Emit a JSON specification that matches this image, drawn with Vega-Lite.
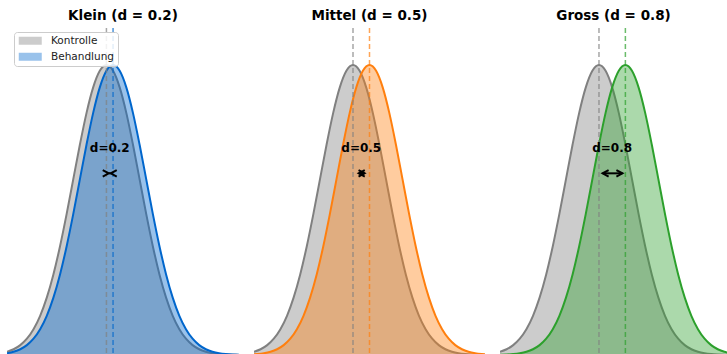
{
  "$schema": "https://vega.github.io/schema/vega-lite/v6.json",
  "padding": {"left": 7, "top": 8, "right": 0, "bottom": 0},
  "spacing": 15,
  "datasets": {
    "control": [
      {"x": -3.0, "y": 0.00443}, {"x": -2.8, "y": 0.00792}, {"x": -2.6, "y": 0.01358}, {"x": -2.4, "y": 0.02239},
      {"x": -2.2, "y": 0.03547}, {"x": -2.0, "y": 0.05399}, {"x": -1.8, "y": 0.07895}, {"x": -1.6, "y": 0.11092},
      {"x": -1.4, "y": 0.14973}, {"x": -1.2, "y": 0.19419}, {"x": -1.0, "y": 0.24197}, {"x": -0.8, "y": 0.28969},
      {"x": -0.6, "y": 0.33322}, {"x": -0.4, "y": 0.36827}, {"x": -0.2, "y": 0.39104}, {"x": 0.0, "y": 0.39894},
      {"x": 0.2, "y": 0.39104}, {"x": 0.4, "y": 0.36827}, {"x": 0.6, "y": 0.33322}, {"x": 0.8, "y": 0.28969},
      {"x": 1.0, "y": 0.24197}, {"x": 1.2, "y": 0.19419}, {"x": 1.4, "y": 0.14973}, {"x": 1.6, "y": 0.11092},
      {"x": 1.8, "y": 0.07895}, {"x": 2.0, "y": 0.05399}, {"x": 2.2, "y": 0.03547}, {"x": 2.4, "y": 0.02239},
      {"x": 2.6, "y": 0.01358}, {"x": 2.8, "y": 0.00792}, {"x": 3.0, "y": 0.00443}, {"x": 3.2, "y": 0.00238},
      {"x": 3.4, "y": 0.00123}, {"x": 3.6, "y": 0.00061}, {"x": 3.8, "y": 0.00029}, {"x": 4.0, "y": 0.00013}
    ],
    "treat": [
      {"d": 0.2, "x": -3.0, "y": 0.00238}, {"d": 0.2, "x": -2.8, "y": 0.00443}, {"d": 0.2, "x": -2.6, "y": 0.00792}, {"d": 0.2, "x": -2.4, "y": 0.01358},
      {"d": 0.2, "x": -2.2, "y": 0.02239}, {"d": 0.2, "x": -2.0, "y": 0.03547}, {"d": 0.2, "x": -1.8, "y": 0.05399}, {"d": 0.2, "x": -1.6, "y": 0.07895},
      {"d": 0.2, "x": -1.4, "y": 0.11092}, {"d": 0.2, "x": -1.2, "y": 0.14973}, {"d": 0.2, "x": -1.0, "y": 0.19419}, {"d": 0.2, "x": -0.8, "y": 0.24197},
      {"d": 0.2, "x": -0.6, "y": 0.28969}, {"d": 0.2, "x": -0.4, "y": 0.33322}, {"d": 0.2, "x": -0.2, "y": 0.36827}, {"d": 0.2, "x": 0.0, "y": 0.39104},
      {"d": 0.2, "x": 0.2, "y": 0.39894}, {"d": 0.2, "x": 0.4, "y": 0.39104}, {"d": 0.2, "x": 0.6, "y": 0.36827}, {"d": 0.2, "x": 0.8, "y": 0.33322},
      {"d": 0.2, "x": 1.0, "y": 0.28969}, {"d": 0.2, "x": 1.2, "y": 0.24197}, {"d": 0.2, "x": 1.4, "y": 0.19419}, {"d": 0.2, "x": 1.6, "y": 0.14973},
      {"d": 0.2, "x": 1.8, "y": 0.11092}, {"d": 0.2, "x": 2.0, "y": 0.07895}, {"d": 0.2, "x": 2.2, "y": 0.05399}, {"d": 0.2, "x": 2.4, "y": 0.03547},
      {"d": 0.2, "x": 2.6, "y": 0.02239}, {"d": 0.2, "x": 2.8, "y": 0.01358}, {"d": 0.2, "x": 3.0, "y": 0.00792}, {"d": 0.2, "x": 3.2, "y": 0.00443},
      {"d": 0.2, "x": 3.4, "y": 0.00238}, {"d": 0.2, "x": 3.6, "y": 0.00123}, {"d": 0.2, "x": 3.8, "y": 0.00061}, {"d": 0.2, "x": 4.0, "y": 0.00029},

      {"d": 0.5, "x": -3.1, "y": 0.00061}, {"d": 0.5, "x": -2.9, "y": 0.00123}, {"d": 0.5, "x": -2.7, "y": 0.00238}, {"d": 0.5, "x": -2.5, "y": 0.00443},
      {"d": 0.5, "x": -2.3, "y": 0.00792}, {"d": 0.5, "x": -2.1, "y": 0.01358}, {"d": 0.5, "x": -1.9, "y": 0.02239}, {"d": 0.5, "x": -1.7, "y": 0.03547},
      {"d": 0.5, "x": -1.5, "y": 0.05399}, {"d": 0.5, "x": -1.3, "y": 0.07895}, {"d": 0.5, "x": -1.1, "y": 0.11092}, {"d": 0.5, "x": -0.9, "y": 0.14973},
      {"d": 0.5, "x": -0.7, "y": 0.19419}, {"d": 0.5, "x": -0.5, "y": 0.24197}, {"d": 0.5, "x": -0.3, "y": 0.28969}, {"d": 0.5, "x": -0.1, "y": 0.33322},
      {"d": 0.5, "x": 0.1, "y": 0.36827}, {"d": 0.5, "x": 0.3, "y": 0.39104}, {"d": 0.5, "x": 0.5, "y": 0.39894}, {"d": 0.5, "x": 0.7, "y": 0.39104},
      {"d": 0.5, "x": 0.9, "y": 0.36827}, {"d": 0.5, "x": 1.1, "y": 0.33322}, {"d": 0.5, "x": 1.3, "y": 0.28969}, {"d": 0.5, "x": 1.5, "y": 0.24197},
      {"d": 0.5, "x": 1.7, "y": 0.19419}, {"d": 0.5, "x": 1.9, "y": 0.14973}, {"d": 0.5, "x": 2.1, "y": 0.11092}, {"d": 0.5, "x": 2.3, "y": 0.07895},
      {"d": 0.5, "x": 2.5, "y": 0.05399}, {"d": 0.5, "x": 2.7, "y": 0.03547}, {"d": 0.5, "x": 2.9, "y": 0.02239}, {"d": 0.5, "x": 3.1, "y": 0.01358},
      {"d": 0.5, "x": 3.3, "y": 0.00792}, {"d": 0.5, "x": 3.5, "y": 0.00443}, {"d": 0.5, "x": 3.7, "y": 0.00238}, {"d": 0.5, "x": 3.9, "y": 0.00123},
      {"d": 0.5, "x": 4.1, "y": 0.00061},

      {"d": 0.8, "x": -3.0, "y": 0.00029}, {"d": 0.8, "x": -2.8, "y": 0.00061}, {"d": 0.8, "x": -2.6, "y": 0.00123}, {"d": 0.8, "x": -2.4, "y": 0.00238},
      {"d": 0.8, "x": -2.2, "y": 0.00443}, {"d": 0.8, "x": -2.0, "y": 0.00792}, {"d": 0.8, "x": -1.8, "y": 0.01358}, {"d": 0.8, "x": -1.6, "y": 0.02239},
      {"d": 0.8, "x": -1.4, "y": 0.03547}, {"d": 0.8, "x": -1.2, "y": 0.05399}, {"d": 0.8, "x": -1.0, "y": 0.07895}, {"d": 0.8, "x": -0.8, "y": 0.11092},
      {"d": 0.8, "x": -0.6, "y": 0.14973}, {"d": 0.8, "x": -0.4, "y": 0.19419}, {"d": 0.8, "x": -0.2, "y": 0.24197}, {"d": 0.8, "x": 0.0, "y": 0.28969},
      {"d": 0.8, "x": 0.2, "y": 0.33322}, {"d": 0.8, "x": 0.4, "y": 0.36827}, {"d": 0.8, "x": 0.6, "y": 0.39104}, {"d": 0.8, "x": 0.8, "y": 0.39894},
      {"d": 0.8, "x": 1.0, "y": 0.39104}, {"d": 0.8, "x": 1.2, "y": 0.36827}, {"d": 0.8, "x": 1.4, "y": 0.33322}, {"d": 0.8, "x": 1.6, "y": 0.28969},
      {"d": 0.8, "x": 1.8, "y": 0.24197}, {"d": 0.8, "x": 2.0, "y": 0.19419}, {"d": 0.8, "x": 2.2, "y": 0.14973}, {"d": 0.8, "x": 2.4, "y": 0.11092},
      {"d": 0.8, "x": 2.6, "y": 0.07895}, {"d": 0.8, "x": 2.8, "y": 0.05399}, {"d": 0.8, "x": 3.0, "y": 0.03547}, {"d": 0.8, "x": 3.2, "y": 0.02239},
      {"d": 0.8, "x": 3.4, "y": 0.01358}, {"d": 0.8, "x": 3.6, "y": 0.00792}, {"d": 0.8, "x": 3.8, "y": 0.00443}, {"d": 0.8, "x": 4.0, "y": 0.00238}
    ]
  },
  "hconcat": [
    {
      "width": 232, "height": 327,
      "title": "Klein (d = 0.2)",
      "layer": [
        {"data": {"name": "control"},
         "mark": {"type": "area", "interpolate": "monotone", "opacity": 0.4, "clip": true},
         "encoding": {
           "x": {"field": "x", "type": "quantitative", "scale": {"domain": [-3, 4], "nice": false, "zero": false}, "axis": null},
           "y": {"field": "y", "type": "quantitative", "scale": {"domain": [0, 0.45], "nice": false}, "axis": null},
           "color": {"datum": "Kontrolle", "type": "nominal",
             "scale": {"domain": ["Kontrolle", "Behandlung"], "range": ["#808080", "#0066CC"]},
             "legend": {"title": null, "orient": "none", "legendX": 7, "legendY": 4,
               "symbolType": "M-1,-1H4.75V1H-1Z", "symbolSize": 64, "symbolStrokeWidth": 0,
               "labelFont": "DejaVu Sans", "labelFontSize": 10.5, "labelColor": "#222222", "labelOffset": 23,
               "rowPadding": 5, "padding": 3.5, "fillColor": "rgba(255,255,255,0.85)", "strokeColor": "#cccccc", "cornerRadius": 3}}
         }},
        {"data": {"name": "control"},
         "mark": {"type": "line", "interpolate": "monotone", "color": "#808080", "strokeWidth": 2, "clip": true},
         "encoding": {"x": {"field": "x", "type": "quantitative"}, "y": {"field": "y", "type": "quantitative"}}},
        {"data": {"name": "treat"}, "transform": [{"filter": "datum.d == 0.2"}],
         "mark": {"type": "area", "interpolate": "monotone", "opacity": 0.4, "clip": true},
         "encoding": {"x": {"field": "x", "type": "quantitative"}, "y": {"field": "y", "type": "quantitative"},
           "color": {"datum": "Behandlung", "type": "nominal"}}},
        {"data": {"name": "treat"}, "transform": [{"filter": "datum.d == 0.2"}],
         "mark": {"type": "line", "interpolate": "monotone", "color": "#0066CC", "strokeWidth": 2, "clip": true},
         "encoding": {"x": {"field": "x", "type": "quantitative"}, "y": {"field": "y", "type": "quantitative"}}},
        {"data": {"values": [{}]},
         "mark": {"type": "rule", "color": "#808080", "opacity": 0.7, "strokeDash": [5, 3], "strokeWidth": 1.5},
         "encoding": {"x": {"datum": 0, "type": "quantitative"}}},
        {"data": {"values": [{}]},
         "mark": {"type": "rule", "color": "#0066CC", "opacity": 0.7, "strokeDash": [5, 3], "strokeWidth": 1.5},
         "encoding": {"x": {"datum": 0.2, "type": "quantitative"}}},
        {"data": {"values": [{}]},
         "mark": {"type": "text", "text": "d=0.2", "font": "DejaVu Sans", "fontWeight": "bold", "fontSize": 12, "baseline": "middle", "align": "center", "color": "black"},
         "encoding": {"x": {"datum": 0.1, "type": "quantitative"}, "y": {"datum": 0.285, "type": "quantitative"}}},
        {"data": {"values": [{}]},
         "mark": {"type": "rule", "color": "black", "strokeWidth": 2},
         "encoding": {"x": {"datum": 0.07, "type": "quantitative"}, "x2": {"datum": 0.13}, "y": {"datum": 0.25, "type": "quantitative"}}},
        {"data": {"values": [{}]},
         "mark": {"type": "point", "shape": "M3,-1.6L0,0L3,1.6", "size": 16, "filled": false, "color": "black", "strokeWidth": 2, "opacity": 1},
         "encoding": {"x": {"datum": 0.13, "type": "quantitative"}, "y": {"datum": 0.25, "type": "quantitative"}}},
        {"data": {"values": [{}]},
         "mark": {"type": "point", "shape": "M-3,-1.6L0,0L-3,1.6", "size": 16, "filled": false, "color": "black", "strokeWidth": 2, "opacity": 1},
         "encoding": {"x": {"datum": 0.07, "type": "quantitative"}, "y": {"datum": 0.25, "type": "quantitative"}}}
      ]
    },
    {
      "width": 231, "height": 327,
      "title": "Mittel (d = 0.5)",
      "layer": [
        {"data": {"name": "control"},
         "mark": {"type": "area", "interpolate": "monotone", "color": "#808080", "opacity": 0.4, "clip": true},
         "encoding": {
           "x": {"field": "x", "type": "quantitative", "scale": {"domain": [-3, 4], "nice": false, "zero": false}, "axis": null},
           "y": {"field": "y", "type": "quantitative", "scale": {"domain": [0, 0.45], "nice": false}, "axis": null}
         }},
        {"data": {"name": "control"},
         "mark": {"type": "line", "interpolate": "monotone", "color": "#808080", "strokeWidth": 2, "clip": true},
         "encoding": {"x": {"field": "x", "type": "quantitative"}, "y": {"field": "y", "type": "quantitative"}}},
        {"data": {"name": "treat"}, "transform": [{"filter": "datum.d == 0.5"}],
         "mark": {"type": "area", "interpolate": "monotone", "color": "#FF7F0E", "opacity": 0.4, "clip": true},
         "encoding": {"x": {"field": "x", "type": "quantitative"}, "y": {"field": "y", "type": "quantitative"}}},
        {"data": {"name": "treat"}, "transform": [{"filter": "datum.d == 0.5"}],
         "mark": {"type": "line", "interpolate": "monotone", "color": "#FF7F0E", "strokeWidth": 2, "clip": true},
         "encoding": {"x": {"field": "x", "type": "quantitative"}, "y": {"field": "y", "type": "quantitative"}}},
        {"data": {"values": [{}]},
         "mark": {"type": "rule", "color": "#808080", "opacity": 0.7, "strokeDash": [5, 3], "strokeWidth": 1.5},
         "encoding": {"x": {"datum": 0, "type": "quantitative"}}},
        {"data": {"values": [{}]},
         "mark": {"type": "rule", "color": "#FF7F0E", "opacity": 0.7, "strokeDash": [5, 3], "strokeWidth": 1.5},
         "encoding": {"x": {"datum": 0.5, "type": "quantitative"}}},
        {"data": {"values": [{}]},
         "mark": {"type": "text", "text": "d=0.5", "font": "DejaVu Sans", "fontWeight": "bold", "fontSize": 12, "baseline": "middle", "align": "center", "color": "black"},
         "encoding": {"x": {"datum": 0.25, "type": "quantitative"}, "y": {"datum": 0.285, "type": "quantitative"}}},
        {"data": {"values": [{}]},
         "mark": {"type": "rule", "color": "black", "strokeWidth": 2},
         "encoding": {"x": {"datum": 0.175, "type": "quantitative"}, "x2": {"datum": 0.35}, "y": {"datum": 0.25, "type": "quantitative"}}},
        {"data": {"values": [{}]},
         "mark": {"type": "point", "shape": "M3,-1.6L0,0L3,1.6", "size": 16, "filled": false, "color": "black", "strokeWidth": 2, "opacity": 1},
         "encoding": {"x": {"datum": 0.175, "type": "quantitative"}, "y": {"datum": 0.25, "type": "quantitative"}}},
        {"data": {"values": [{}]},
         "mark": {"type": "point", "shape": "M-3,-1.6L0,0L-3,1.6", "size": 16, "filled": false, "color": "black", "strokeWidth": 2, "opacity": 1},
         "encoding": {"x": {"datum": 0.35, "type": "quantitative"}, "y": {"datum": 0.25, "type": "quantitative"}}}
      ]
    },
    {
      "width": 227, "height": 327,
      "title": "Gross (d = 0.8)",
      "layer": [
        {"data": {"name": "control"},
         "mark": {"type": "area", "interpolate": "monotone", "color": "#808080", "opacity": 0.4, "clip": true},
         "encoding": {
           "x": {"field": "x", "type": "quantitative", "scale": {"domain": [-3, 3.88], "nice": false, "zero": false}, "axis": null},
           "y": {"field": "y", "type": "quantitative", "scale": {"domain": [0, 0.45], "nice": false}, "axis": null}
         }},
        {"data": {"name": "control"},
         "mark": {"type": "line", "interpolate": "monotone", "color": "#808080", "strokeWidth": 2, "clip": true},
         "encoding": {"x": {"field": "x", "type": "quantitative"}, "y": {"field": "y", "type": "quantitative"}}},
        {"data": {"name": "treat"}, "transform": [{"filter": "datum.d == 0.8"}],
         "mark": {"type": "area", "interpolate": "monotone", "color": "#2CA02C", "opacity": 0.4, "clip": true},
         "encoding": {"x": {"field": "x", "type": "quantitative"}, "y": {"field": "y", "type": "quantitative"}}},
        {"data": {"name": "treat"}, "transform": [{"filter": "datum.d == 0.8"}],
         "mark": {"type": "line", "interpolate": "monotone", "color": "#2CA02C", "strokeWidth": 2, "clip": true},
         "encoding": {"x": {"field": "x", "type": "quantitative"}, "y": {"field": "y", "type": "quantitative"}}},
        {"data": {"values": [{}]},
         "mark": {"type": "rule", "color": "#808080", "opacity": 0.7, "strokeDash": [5, 3], "strokeWidth": 1.5},
         "encoding": {"x": {"datum": 0, "type": "quantitative"}}},
        {"data": {"values": [{}]},
         "mark": {"type": "rule", "color": "#2CA02C", "opacity": 0.7, "strokeDash": [5, 3], "strokeWidth": 1.5},
         "encoding": {"x": {"datum": 0.8, "type": "quantitative"}}},
        {"data": {"values": [{}]},
         "mark": {"type": "text", "text": "d=0.8", "font": "DejaVu Sans", "fontWeight": "bold", "fontSize": 12, "baseline": "middle", "align": "center", "color": "black"},
         "encoding": {"x": {"datum": 0.4, "type": "quantitative"}, "y": {"datum": 0.285, "type": "quantitative"}}},
        {"data": {"values": [{}]},
         "mark": {"type": "rule", "color": "black", "strokeWidth": 2},
         "encoding": {"x": {"datum": 0.11, "type": "quantitative"}, "x2": {"datum": 0.71}, "y": {"datum": 0.25, "type": "quantitative"}}},
        {"data": {"values": [{}]},
         "mark": {"type": "point", "shape": "M3,-1.6L0,0L3,1.6", "size": 16, "filled": false, "color": "black", "strokeWidth": 2, "opacity": 1},
         "encoding": {"x": {"datum": 0.11, "type": "quantitative"}, "y": {"datum": 0.25, "type": "quantitative"}}},
        {"data": {"values": [{}]},
         "mark": {"type": "point", "shape": "M-3,-1.6L0,0L-3,1.6", "size": 16, "filled": false, "color": "black", "strokeWidth": 2, "opacity": 1},
         "encoding": {"x": {"datum": 0.71, "type": "quantitative"}, "y": {"datum": 0.25, "type": "quantitative"}}}
      ]
    }
  ],
  "resolve": {"scale": {"x": "independent", "y": "independent", "color": "independent"}},
  "config": {
    "view": {"stroke": null},
    "font": "DejaVu Sans",
    "title": {"font": "DejaVu Sans", "fontSize": 13.5, "fontWeight": "bold", "color": "black", "offset": 5, "anchor": "middle"}
  }
}
